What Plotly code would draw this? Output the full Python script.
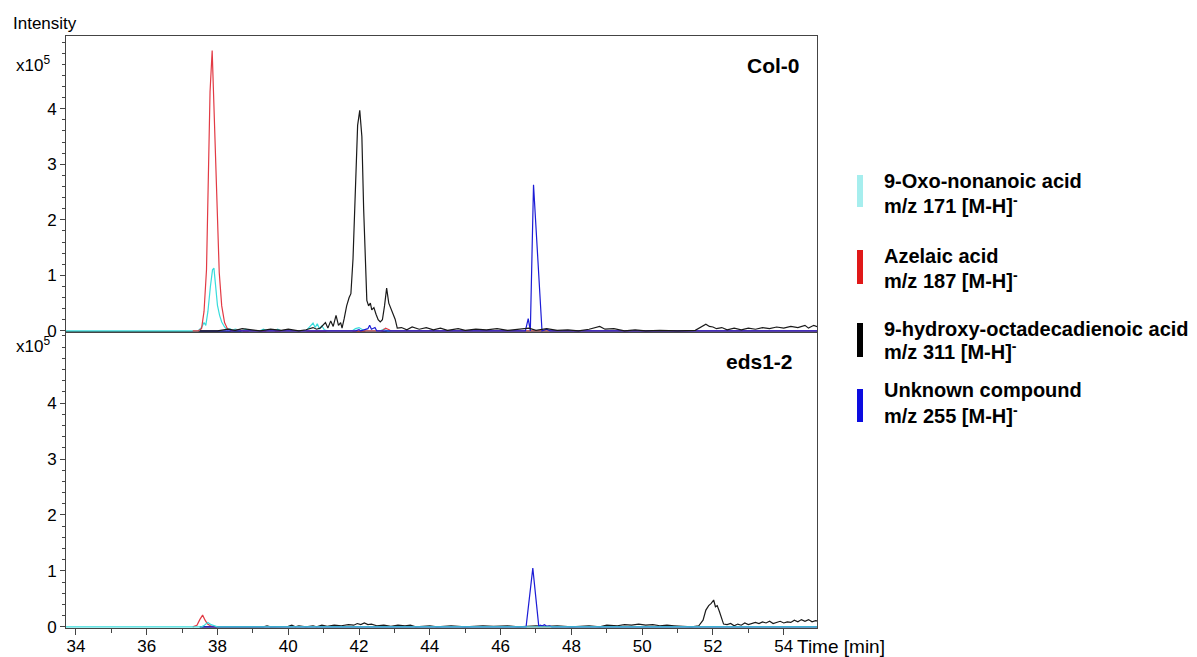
import plotly.graph_objects as go

# ---------------- data (time in min, intensity in units of 1e5) ----------------
# Col-0 panel
col0_oxo = [(33.6, 0), (37.45, 0), (37.55, 0.06), (37.62, 0.15), (37.67, 0.10), (37.73, 0.35),
            (37.80, 0.80), (37.86, 1.10), (37.90, 1.13), (37.95, 0.85), (38.00, 0.46), (38.06, 0.28),
            (38.12, 0.16), (38.20, 0.07), (38.28, 0.02), (38.35, 0.04), (38.42, 0.01), (38.50, 0.03),
            (38.70, 0.0), (38.80, 0.03), (38.90, 0.0), (39.20, 0.0), (39.30, 0.03), (39.40, 0.0),
            (39.60, 0.0), (39.70, 0.03), (39.80, 0.0), (40.50, 0.0), (40.62, 0.08), (40.70, 0.14),
            (40.76, 0.06), (40.82, 0.13), (40.88, 0.04), (40.95, 0.09), (41.02, 0.02), (41.10, 0.0),
            (41.80, 0.0), (41.90, 0.04), (42.00, 0.06), (42.10, 0.02), (42.20, 0.0), (42.60, 0.0),
            (42.70, 0.03), (42.80, 0.0), (55.0, 0)]
col0_aze = [(37.30, 0), (37.45, 0), (37.55, 0.04), (37.62, 0.35), (37.69, 1.1), (37.73, 2.6),
            (37.79, 4.3), (37.85, 5.05), (37.90, 4.0), (37.96, 2.6), (38.05, 1.05), (38.12, 0.45),
            (38.20, 0.15), (38.28, 0.04), (38.40, 0.0), (38.60, 0.02), (38.70, 0), (42.65, 0),
            (42.75, 0.05), (42.85, 0.02), (42.90, 0), (55.0, 0)]
col0_hode = [(37.5, 0), (38.0, 0.0), (38.3, 0.03), (38.5, 0.01), (38.7, 0.04), (39.0, 0.02),
             (39.2, 0.0), (39.5, 0.03), (39.8, 0.01), (40.0, 0.03), (40.3, 0.0), (40.5, 0.02),
             (40.7, 0.06), (40.8, 0.03), (40.9, 0.05), (41.05, 0.15), (41.12, 0.05), (41.2, 0.18),
             (41.27, 0.08), (41.35, 0.28), (41.42, 0.10), (41.48, 0.15), (41.52, 0.05), (41.58, 0.22),
             (41.65, 0.45), (41.72, 0.60), (41.77, 0.67), (41.83, 1.3), (41.90, 2.6), (41.96, 3.7),
             (42.02, 3.97), (42.08, 3.5), (42.13, 2.2), (42.18, 1.0), (42.22, 0.55), (42.27, 0.45),
             (42.32, 0.50), (42.36, 0.38), (42.42, 0.42), (42.48, 0.30), (42.54, 0.20), (42.60, 0.16),
             (42.66, 0.20), (42.72, 0.45), (42.78, 0.77), (42.84, 0.50), (42.90, 0.40), (42.96, 0.30),
             (43.02, 0.21), (43.08, 0.05), (43.2, 0.06), (43.35, 0.02), (43.5, 0.07), (43.7, 0.03),
             (43.9, 0.06), (44.1, 0.02), (44.3, 0.05), (44.5, 0.01), (44.8, 0.04), (45.0, 0.01),
             (45.3, 0.03), (45.6, 0.02), (45.9, 0.04), (46.2, 0.01), (46.5, 0.03), (46.8, 0.05),
             (47.0, 0.01), (47.3, 0.04), (47.6, 0.01), (47.9, 0.02), (48.2, 0.0), (48.5, 0.03),
             (48.8, 0.08), (48.95, 0.03), (49.2, 0.04), (49.5, 0.0), (49.8, 0.02), (50.1, 0.0),
             (50.5, 0.01), (51.0, 0.0), (51.5, 0.01), (51.72, 0.10), (51.8, 0.12), (51.9, 0.08),
             (52.0, 0.07), (52.1, 0.04), (52.25, 0.06), (52.4, 0.02), (52.6, 0.05), (52.8, 0.02),
             (53.0, 0.05), (53.2, 0.03), (53.4, 0.06), (53.6, 0.04), (53.8, 0.07), (54.0, 0.05),
             (54.2, 0.08), (54.4, 0.06), (54.6, 0.10), (54.7, 0.05), (54.85, 0.10), (55.0, 0.06)]
col0_unk = [(37.5, 0), (41.9, 0), (42.0, 0.02), (42.05, 0), (42.25, 0.04), (42.3, 0.10),
            (42.35, 0.03), (42.45, 0.06), (42.5, 0), (46.70, 0), (46.78, 0.22), (46.84, 0.0),
            (46.93, 2.63), (47.05, 1.3), (47.17, 0.0), (47.3, 0.03), (47.4, 0), (55.0, 0)]

# eds1-2 panel
eds_oxo = [(33.6, 0), (37.55, 0), (37.63, 0.03), (37.73, 0.08), (37.82, 0.04), (37.92, 0.01),
           (38.0, 0), (55.0, 0)]
eds_aze = [(37.30, 0), (37.42, 0.03), (37.50, 0.13), (37.58, 0.21), (37.65, 0.12), (37.72, 0.05),
           (37.80, 0.02), (37.90, 0), (55.0, 0)]
eds_hode = [(37.5, 0), (38.0, 0), (39.3, 0), (39.4, 0.02), (39.5, 0), (40.0, 0.01), (40.1, 0.03),
            (40.2, 0.0), (40.3, 0.02), (40.5, 0), (40.7, 0.02), (40.8, 0.0), (40.95, 0.03),
            (41.1, 0.01), (41.3, 0.03), (41.5, 0.02), (41.7, 0.04), (41.85, 0.03), (41.95, 0.06),
            (42.05, 0.04), (42.15, 0.07), (42.25, 0.04), (42.35, 0.05), (42.5, 0.02), (42.7, 0.03),
            (42.9, 0.01), (43.1, 0.03), (43.3, 0.02), (43.45, 0.03), (43.6, 0), (44.0, 0.02),
            (44.2, 0), (44.6, 0.02), (45.0, 0), (45.5, 0.02), (45.8, 0.01), (46.2, 0.02), (46.5, 0),
            (47.0, 0.02), (47.3, 0.01), (47.6, 0.02), (48.0, 0), (48.5, 0.02), (48.8, 0.0),
            (49.0, 0.03), (49.3, 0.02), (49.5, 0.04), (49.7, 0.03), (49.9, 0.05), (50.1, 0.03),
            (50.3, 0.04), (50.5, 0.02), (50.7, 0.03), (50.9, 0.02), (51.1, 0.01), (51.4, 0.0),
            (51.6, 0.02), (51.72, 0.12), (51.8, 0.30), (51.88, 0.38), (51.95, 0.42), (52.02, 0.48),
            (52.07, 0.36), (52.12, 0.38), (52.18, 0.28), (52.25, 0.12), (52.3, 0.05), (52.4, 0.04),
            (52.5, 0.06), (52.6, 0.02), (52.7, 0.05), (52.8, 0.03), (52.9, 0.07), (53.0, 0.04),
            (53.1, 0.06), (53.2, 0.08), (53.3, 0.06), (53.4, 0.09), (53.5, 0.07), (53.6, 0.10),
            (53.7, 0.06), (53.8, 0.08), (53.9, 0.10), (54.0, 0.07), (54.1, 0.09), (54.2, 0.08),
            (54.3, 0.12), (54.4, 0.09), (54.5, 0.13), (54.6, 0.10), (54.7, 0.13), (54.8, 0.09),
            (54.9, 0.11), (55.0, 0.10)]
eds_unk = [(37.5, 0), (46.72, 0), (46.91, 1.05), (47.08, 0), (47.12, 0.03), (47.18, 0.02),
           (47.24, 0.04), (47.30, 0.01), (47.38, 0.02), (47.45, 0), (55.0, 0)]

panel_labels = ["Col-0", "eds1-2"]
compound_names = ["9-Oxo-nonanoic acid", "Azelaic acid",
                  "9-hydroxy-octadecadienoic acid", "Unknown compound"]
compound_mz = ["m/z 171 [M-H]<sup>-</sup>", "m/z 187 [M-H]<sup>-</sup>",
               "m/z 311 [M-H]<sup>-</sup>", "m/z 255 [M-H]<sup>-</sup>"]
x_tickvals = [34, 36, 38, 40, 42, 44, 46, 48, 50, 52, 54]
y_tickvals = [0, 1, 2, 3, 4]

# ---------------- styles ----------------
line_colors = {"oxo": "#38dcdc", "aze": "#e23a44", "hode": "#1a1a1a", "unk": "#1c1cd6"}
bar_colors = ["#a6eeee", "#e01818", "#000000", "#0c0ce0"]
FONT = "Liberation Sans, Arial, sans-serif"
AX = "#444444"

fig = go.Figure()


def add(series, key, xa, ya):
    t = [p[0] for p in series]
    v = [p[1] for p in series]
    fig.add_trace(go.Scatter(x=t, y=v, mode="lines", xaxis=xa, yaxis=ya,
                             line=dict(color=line_colors[key], width=1.2),
                             hoverinfo="skip", showlegend=False))


# top panel (Col-0): black drawn over the others
for s, k in [(col0_oxo, "oxo"), (col0_aze, "aze"), (col0_unk, "unk"), (col0_hode, "hode")]:
    add(s, k, "x2", "y2")
# bottom panel (eds1-2): cyan baseline on top
for s, k in [(eds_hode, "hode"), (eds_aze, "aze"), (eds_unk, "unk"), (eds_oxo, "oxo")]:
    add(s, k, "x", "y")

L, R, T, B = 66, 817, 36, 628
W, H = 1197, 657


def pxx(x):
    return (x - L) / (R - L)


def pxy(y):
    return (B - y) / (B - T)


yax_common = dict(showline=True, linecolor=AX, linewidth=1, mirror=True,
                  ticks="outside", ticklen=5, tickwidth=1, tickcolor=AX,
                  tickmode="array", tickvals=y_tickvals,
                  minor=dict(tickmode="linear", tick0=0, dtick=0.2, ticks="outside",
                             ticklen=3, tickwidth=1, tickcolor=AX),
                  showgrid=False, zeroline=False, automargin=False,
                  tickfont=dict(family=FONT, size=17, color="#000"))

fig.update_layout(
    width=W, height=H,
    margin=dict(l=L, r=W - R, t=T, b=H - B, pad=0, autoexpand=False),
    plot_bgcolor="white", paper_bgcolor="white",
    showlegend=False,
    xaxis=dict(domain=[0, 1], anchor="y", range=[33.72, 54.94], automargin=False,
               showline=True, linecolor=AX, linewidth=1, mirror=True,
               ticks="outside", ticklen=6, tickwidth=1, tickcolor=AX,
               tickmode="array", tickvals=x_tickvals, ticklabelstandoff=-3,
               minor=dict(tickmode="linear", tick0=33, dtick=1, ticks="outside",
                          ticklen=4, tickwidth=1, tickcolor=AX),
               showgrid=False, zeroline=False,
               tickfont=dict(family=FONT, size=17, color="#000")),
    xaxis2=dict(domain=[0, 1], anchor="y2", matches="x", range=[33.72, 54.94], automargin=False,
                showline=True, linecolor=AX, linewidth=1, mirror=True,
                showticklabels=False, ticks="", showgrid=False, zeroline=False),
    yaxis=dict(domain=[0, 0.5], anchor="x", range=[-0.02, 5.27], **yax_common),
    yaxis2=dict(domain=[0.5, 1], anchor="x2", range=[-0.02, 5.31], **yax_common),
)

ann = []
# axis titles / multipliers
ann.append(dict(text="Intensity", x=pxx(11), y=pxy(23), xref="paper", yref="paper",
                xanchor="left", yanchor="middle", showarrow=False,
                font=dict(family=FONT, size=17, color="#000")))
for yc in (64, 345):
    ann.append(dict(text="x10<sup>5</sup>", x=pxx(14), y=pxy(yc), xref="paper", yref="paper",
                    xanchor="left", yanchor="middle", showarrow=False,
                    font=dict(family=FONT, size=17, color="#000")))
ann.append(dict(text="Time [min]", x=pxx(795), y=pxy(646), xref="paper", yref="paper",
                xanchor="left", yanchor="middle", showarrow=False,
                font=dict(family=FONT, size=19, color="#000")))
# panel labels
for lab, (xr, yc) in zip(panel_labels, [(802, 66), (795, 361)]):
    ann.append(dict(text="<b>%s</b>" % lab, x=pxx(xr), y=pxy(yc), xref="paper", yref="paper",
                    xanchor="right", yanchor="middle", showarrow=False,
                    font=dict(family=FONT, size=21, color="#000")))

# custom legend: vertical colour bars + two-line bold labels
bar_spans = [(175, 207), (250, 284), (323, 357), (389, 422)]
line1_y = [181, 256, 329, 390]
line2_y = [204, 279, 351, 414]
shapes = []
for i in range(4):
    y0, y1 = bar_spans[i]
    shapes.append(dict(type="rect", xref="paper", yref="paper",
                       x0=pxx(857), x1=pxx(863), y0=pxy(y1), y1=pxy(y0),
                       fillcolor=bar_colors[i], line=dict(width=0)))
    ann.append(dict(text="<b>%s</b>" % compound_names[i], x=pxx(882), y=pxy(line1_y[i]),
                    xref="paper", yref="paper", xanchor="left", yanchor="middle",
                    showarrow=False, font=dict(family=FONT, size=20, color="#000")))
    ann.append(dict(text="<b>%s</b>" % compound_mz[i], x=pxx(882), y=pxy(line2_y[i]),
                    xref="paper", yref="paper", xanchor="left", yanchor="middle",
                    showarrow=False, font=dict(family=FONT, size=20, color="#000")))

fig.update_layout(annotations=ann, shapes=shapes)
fig.write_html("out.html")
